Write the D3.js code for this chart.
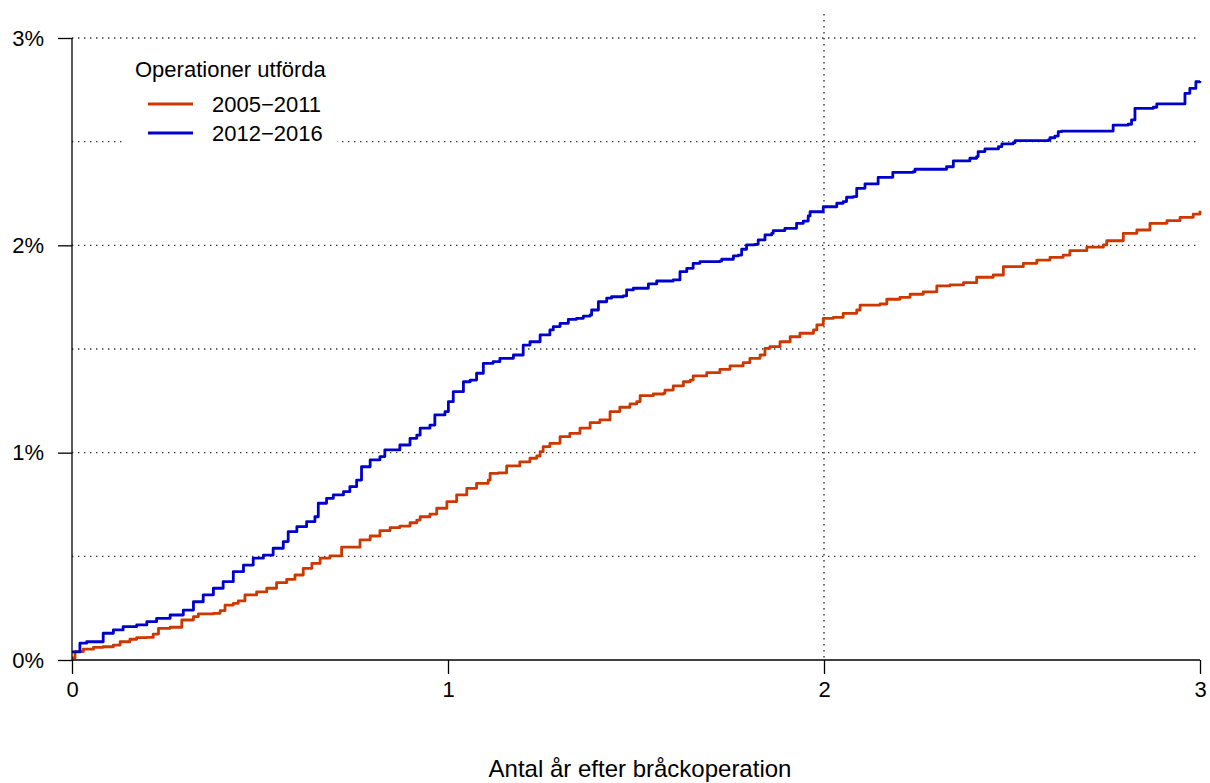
<!DOCTYPE html>
<html>
<head>
<meta charset="utf-8">
<script src="https://cdn.jsdelivr.net/npm/d3@7"></script>
<style>
  html, body { margin: 0; padding: 0; background: #fff; }
  svg { display: block; font-family: "Liberation Sans", Arial, sans-serif; }
</style>
</head>
<body>
<svg id="chart" width="1210" height="783"></svg>
<script>
// Cumulative share of re-operations (%) by years after hernia surgery
const seriesNames = ["2005\u22122011", "2012\u22122016"];
const seriesColors = ["#CD3700", "#0000CD"];

// 2005–2011: [years, percent]
const early = [
  [0.000,0.010],[0.008,0.040],[0.030,0.052],[0.057,0.061],[0.083,0.064],[0.110,0.072],
  [0.128,0.088],[0.154,0.100],[0.172,0.108],[0.199,0.109],[0.216,0.125],[0.230,0.153],
  [0.261,0.158],[0.292,0.193],[0.323,0.209],[0.336,0.222],[0.376,0.225],[0.394,0.238],
  [0.407,0.265],[0.429,0.273],[0.442,0.285],[0.460,0.314],[0.491,0.329],[0.518,0.346],
  [0.544,0.373],[0.571,0.389],[0.593,0.410],[0.615,0.442],[0.638,0.466],[0.660,0.491],
  [0.686,0.502],[0.717,0.544],[0.766,0.579],[0.793,0.598],[0.819,0.624],[0.846,0.638],
  [0.872,0.646],[0.899,0.662],[0.917,0.675],[0.926,0.691],[0.952,0.704],[0.970,0.732],
  [0.997,0.764],[1.023,0.796],[1.050,0.828],[1.076,0.852],[1.107,0.868],[1.112,0.900],
  [1.134,0.903],[1.156,0.936],[1.191,0.956],[1.218,0.973],[1.236,0.984],[1.245,1.005],
  [1.253,1.029],[1.271,1.045],[1.298,1.077],[1.324,1.093],[1.351,1.118],[1.378,1.145],
  [1.404,1.158],[1.431,1.198],[1.457,1.219],[1.484,1.235],[1.502,1.246],[1.511,1.275],
  [1.546,1.283],[1.573,1.286],[1.577,1.302],[1.599,1.322],[1.626,1.342],[1.644,1.350],
  [1.652,1.370],[1.688,1.386],[1.723,1.402],[1.750,1.419],[1.785,1.434],[1.803,1.455],
  [1.830,1.471],[1.843,1.503],[1.856,1.511],[1.883,1.535],[1.910,1.559],[1.936,1.576],
  [1.972,1.592],[1.981,1.616],[1.998,1.648],[2.025,1.653],[2.051,1.672],[2.087,1.688],
  [2.096,1.712],[2.149,1.717],[2.167,1.740],[2.202,1.749],[2.229,1.764],[2.264,1.776],
  [2.300,1.804],[2.335,1.809],[2.371,1.820],[2.406,1.846],[2.450,1.857],[2.477,1.897],
  [2.530,1.913],[2.566,1.929],[2.601,1.942],[2.636,1.953],[2.654,1.974],[2.699,1.991],
  [2.743,2.002],[2.752,2.022],[2.796,2.058],[2.832,2.074],[2.867,2.106],[2.912,2.119],
  [2.947,2.135],[2.982,2.151],[3.000,2.167]
];

// 2012–2016: [years, percent]
const late = [
  [0.000,0.039],[0.021,0.081],[0.039,0.088],[0.070,0.088],[0.083,0.129],[0.110,0.145],
  [0.136,0.161],[0.172,0.169],[0.199,0.185],[0.225,0.201],[0.261,0.217],[0.296,0.241],
  [0.323,0.281],[0.349,0.314],[0.376,0.346],[0.402,0.378],[0.429,0.426],[0.456,0.458],
  [0.482,0.491],[0.509,0.506],[0.527,0.506],[0.535,0.539],[0.562,0.571],[0.575,0.619],
  [0.598,0.643],[0.624,0.667],[0.646,0.691],[0.655,0.756],[0.677,0.780],[0.695,0.796],
  [0.722,0.812],[0.739,0.836],[0.757,0.868],[0.770,0.932],[0.793,0.965],[0.819,0.981],
  [0.832,1.013],[0.855,1.013],[0.872,1.037],[0.899,1.069],[0.917,1.085],[0.926,1.118],
  [0.952,1.133],[0.965,1.182],[0.992,1.198],[1.001,1.246],[1.014,1.294],[1.041,1.342],
  [1.059,1.350],[1.076,1.383],[1.094,1.431],[1.120,1.439],[1.138,1.455],[1.174,1.471],
  [1.200,1.519],[1.218,1.535],[1.245,1.568],[1.271,1.592],[1.280,1.608],[1.298,1.624],
  [1.320,1.643],[1.342,1.648],[1.360,1.659],[1.378,1.664],[1.382,1.688],[1.400,1.728],
  [1.422,1.745],[1.435,1.752],[1.466,1.756],[1.475,1.785],[1.493,1.793],[1.524,1.793],
  [1.533,1.814],[1.555,1.828],[1.599,1.833],[1.617,1.873],[1.635,1.889],[1.652,1.913],
  [1.670,1.921],[1.723,1.924],[1.728,1.933],[1.750,1.933],[1.759,1.949],[1.772,1.953],
  [1.781,1.981],[1.794,2.002],[1.816,2.005],[1.825,2.026],[1.843,2.050],[1.861,2.058],
  [1.865,2.071],[1.892,2.071],[1.896,2.082],[1.918,2.082],[1.927,2.106],[1.945,2.117],
  [1.958,2.142],[1.963,2.162],[1.989,2.162],[1.998,2.186],[2.025,2.186],[2.034,2.203],
  [2.051,2.211],[2.060,2.232],[2.078,2.235],[2.087,2.275],[2.109,2.296],[2.131,2.296],
  [2.144,2.328],[2.176,2.328],[2.183,2.352],[2.237,2.355],[2.242,2.367],[2.317,2.367],
  [2.326,2.379],[2.344,2.407],[2.379,2.407],[2.388,2.420],[2.406,2.428],[2.410,2.452],
  [2.428,2.465],[2.455,2.465],[2.464,2.476],[2.473,2.489],[2.503,2.495],[2.508,2.505],
  [2.597,2.508],[2.601,2.519],[2.614,2.527],[2.623,2.548],[2.632,2.551],[2.765,2.551],
  [2.769,2.580],[2.809,2.584],[2.818,2.605],[2.827,2.661],[2.876,2.666],[2.885,2.682],
  [2.951,2.682],[2.960,2.733],[2.973,2.757],[2.982,2.757],[2.989,2.789],[3.000,2.793]
];

const xTicks = [0, 1, 2, 3];
const yTicks = [0, 1, 2, 3];
const yTickLabels = ["0%", "1%", "2%", "3%"];
const yGrid = [0.5, 1, 1.5, 2, 2.5, 3];
const xGrid = [2];
const legendTitle = "Operationer utförda";
const xTitle = "Antal år efter bråckoperation";

const svg = d3.select("#chart");
const x = d3.scaleLinear().domain([0, 3]).range([72, 1200]);
const y = d3.scaleLinear().domain([0, 3]).range([660, 38]);

const gridStyle = sel => sel
  .attr("stroke", "#333")
  .attr("stroke-width", 1.4)
  .attr("stroke-dasharray", "1.4,4.6")
  .attr("fill", "none");

// dotted reference lines
svg.append("g").selectAll("line").data(yGrid).join("line")
  .attr("x1", x(0)).attr("x2", x(3))
  .attr("y1", d => y(d)).attr("y2", d => y(d))
  .call(gridStyle);
svg.append("g").selectAll("line").data(xGrid).join("line")
  .attr("x1", d => x(d)).attr("x2", d => x(d))
  .attr("y1", 14).attr("y2", y(0))
  .call(gridStyle);

// legend background masks the grid behind it
svg.append("rect").attr("x", 125).attr("y", 50).attr("width", 212).attr("height", 104)
  .attr("fill", "#fff");

// curves
const line = d3.line().x(d => x(d[0])).y(d => y(d[1])).curve(d3.curveStepAfter);
[early, late].forEach((s, i) => {
  svg.append("path").datum(s)
    .attr("d", line)
    .attr("fill", "none")
    .attr("stroke", seriesColors[i])
    .attr("stroke-width", 2.8)
    .attr("stroke-linejoin", "round");
});

// axes
const fontSize = 22;
const xAxis = svg.append("g").attr("transform", `translate(0,${y(0)})`)
  .call(d3.axisBottom(x).tickValues(xTicks).tickFormat(d3.format("d")).tickSize(14).tickPadding(7));
const yAxis = svg.append("g").attr("transform", `translate(${x(0)},0)`)
  .call(d3.axisLeft(y).tickValues(yTicks).tickFormat((d, i) => yTickLabels[i]).tickSize(14).tickPadding(14));
[xAxis, yAxis].forEach(a => {
  a.select(".domain").attr("stroke", "#000").attr("stroke-width", 1.3)
    .attr("d", a === xAxis ? `M${x(0)},0H${x(3)}` : `M0,${y(0)}V${y(3)}`);
  a.selectAll(".tick line").attr("stroke", "#000").attr("stroke-width", 1.3);
  a.selectAll(".tick text").attr("fill", "#000").attr("font-size", fontSize)
    .attr("font-family", "Liberation Sans, Arial, sans-serif");
});

svg.append("text").attr("x", (x(0) + x(3)) / 2 + 4).attr("y", 777)
  .attr("text-anchor", "middle").attr("font-size", 24).attr("fill", "#000")
  .text(xTitle);

// legend
const lg = svg.append("g");
lg.append("text").attr("x", 135).attr("y", 77).attr("font-size", fontSize).text(legendTitle);
seriesNames.forEach((name, i) => {
  const cy = 104 + i * 29;
  lg.append("line").attr("x1", 148).attr("x2", 193).attr("y1", cy).attr("y2", cy)
    .attr("stroke", seriesColors[i]).attr("stroke-width", 2.8);
  lg.append("text").attr("x", 212).attr("y", cy).attr("dy", "0.35em")
    .attr("font-size", fontSize).text(name);
});
</script>
</body>
</html>
